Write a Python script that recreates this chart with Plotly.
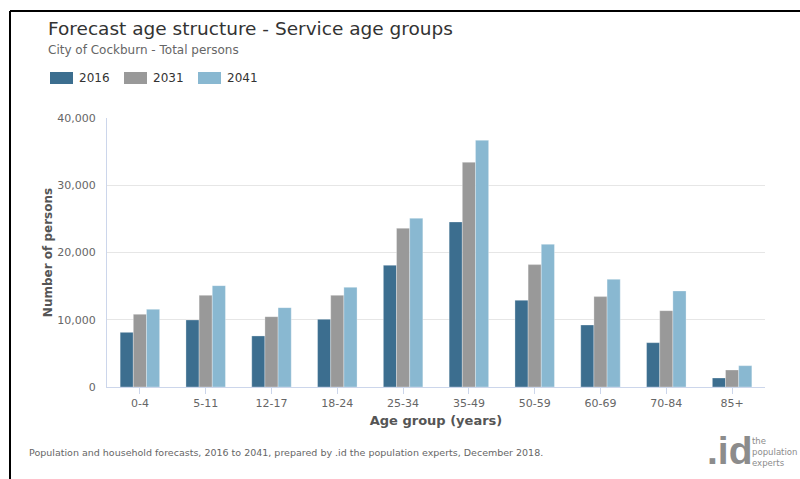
import plotly.graph_objects as go

categories = ["0-4", "5-11", "12-17", "18-24", "25-34", "35-49", "50-59", "60-69", "70-84", "85+"]
years = ["2016", "2031", "2041"]
values_2016 = [8130, 9970, 7590, 10060, 18100, 24540, 12890, 9220, 6590, 1340]
values_2031 = [10810, 13630, 10460, 13630, 23600, 33420, 18200, 13440, 11350, 2530]
values_2041 = [11550, 15070, 11800, 14820, 25090, 36690, 21220, 16010, 14280, 3170]
y_ticks = [0, 10000, 20000, 30000, 40000]
colors = ["#3c6e8f", "#999999", "#89b8d1"]

W, H = 800, 479
L, R, T, B = 107, 765, 118, 387


def px(x):
    return (x - L) / (R - L)


def py(y):
    return (B - y) / (B - T)


FONT = "DejaVu Sans"
COND = "DejaVu Sans Condensed"
fig = go.Figure()
for name, vals, col in zip(years, [values_2016, values_2031, values_2041], colors):
    fig.add_trace(go.Bar(
        x=categories, y=vals, name=name,
        marker=dict(color=col, line=dict(color="rgba(255,255,255,0.6)", width=0.5)),
        showlegend=False,
    ))

shapes = []
annotations = []
# custom legend
leg_x = [50, 124, 198]
for i, (name, col) in enumerate(zip(years, colors)):
    x0 = leg_x[i]
    shapes.append(dict(type="rect", xref="paper", yref="paper",
                       x0=px(x0), x1=px(x0 + 23), y0=py(84), y1=py(72),
                       fillcolor=col, line=dict(width=0)))
    annotations.append(dict(text=name, xref="paper", yref="paper", x=px(x0 + 27), y=py(78),
                            xanchor="left", yanchor="middle", showarrow=False,
                            font=dict(family=FONT, size=12, color="#333333")))

# frame
shapes.append(dict(type="line", xref="paper", yref="paper", x0=px(10), x1=px(800), y0=py(11), y1=py(11),
                   line=dict(color="#000000", width=2)))
shapes.append(dict(type="line", xref="paper", yref="paper", x0=px(10), x1=px(10), y0=py(11), y1=py(479),
                   line=dict(color="#000000", width=2)))

annotations += [
    dict(text="Forecast age structure - Service age groups", xref="paper", yref="paper",
         x=px(46), y=py(28), xanchor="left", yanchor="middle", showarrow=False,
         font=dict(family=FONT, size=18.5, color="#333333")),
    dict(text="City of Cockburn - Total persons", xref="paper", yref="paper",
         x=px(46), y=py(50), xanchor="left", yanchor="middle", showarrow=False,
         font=dict(family=FONT, size=12, color="#666666")),
    dict(text="Population and household forecasts, 2016 to 2041, prepared by .id the population experts, December 2018.",
         xref="paper", yref="paper", x=px(27), y=py(452), xanchor="left", yanchor="middle", showarrow=False,
         font=dict(family=FONT, size=9.5, color="#666666")),
    dict(text="<b>.id</b>", xref="paper", yref="paper", x=px(705), y=py(451), xanchor="left", yanchor="middle",
         showarrow=False, font=dict(family="Liberation Sans", size=39, color="#8c8c8c")),
]
for txt, yy in [("the", 440.5), ("population", 451.5), ("experts", 462.5)]:
    annotations.append(dict(text=txt, xref="paper", yref="paper", x=px(750), y=py(yy),
                            xanchor="left", yanchor="middle", showarrow=False,
                            font=dict(family=COND, size=9.5, color="#8c8c8c")))

fig.update_layout(
    width=W, height=H,
    margin=dict(l=L, r=W - R, t=T, b=H - B, autoexpand=False),
    paper_bgcolor="white", plot_bgcolor="white",
    barmode="group", bargap=0.4, bargroupgap=0,
    font=dict(family=FONT),
    shapes=shapes, annotations=annotations,
    showlegend=False,
)
fig.update_xaxes(
    showline=True, linecolor="#ccd6eb", linewidth=1,
    ticks="outside", tickcolor="#ccd6eb", ticklen=6,
    tickfont=dict(family=FONT, size=11, color="#666666"),
    title=dict(text="<b>Age group (years)</b>", font=dict(family=FONT, size=13, color="#555555"), standoff=6),
    showgrid=False,
)
fig.update_yaxes(
    range=[0, 40000], tickvals=y_ticks, tickformat=",",
    showline=True, linecolor="#ccd6eb", linewidth=1,
    showgrid=True, gridcolor="#e6e6e6", gridwidth=1,
    zeroline=False,
    ticks="outside", tickcolor="rgba(0,0,0,0)", ticklen=8,
    tickfont=dict(family=FONT, size=11, color="#666666"),
    title=dict(text="<b>Number of persons</b>", font=dict(family=FONT, size=12, color="#555555"), standoff=2),
)

fig.write_html("out.html", config={"displayModeBar": False})
with open("out.html", "r", encoding="utf-8") as f:
    html = f.read()
html = html.replace("<head>", "<head><style>html,body{margin:0;padding:0;overflow:hidden;}</style>", 1)
with open("out.html", "w", encoding="utf-8") as f:
    f.write(html)
